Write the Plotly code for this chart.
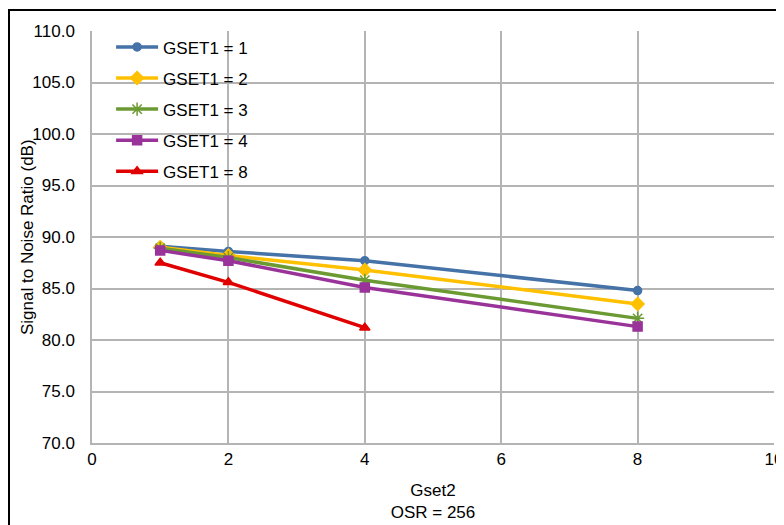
import plotly.graph_objects as go

gset2 = [1, 2, 4, 8]
gset2_g8 = [1, 2, 4]
snr_g1 = [89.1, 88.6, 87.7, 84.8]
snr_g2 = [89.0, 88.2, 86.8, 83.5]
snr_g3 = [88.9, 88.0, 85.8, 82.1]
snr_g4 = [88.7, 87.7, 85.1, 81.3]
snr_g8 = [87.5, 85.6, 81.2]

series = [
    ("GSET1 = 1", gset2, snr_g1, "#4572A7", "circle", 8),
    ("GSET1 = 2", gset2, snr_g2, "#FFC000", "diamond", 10),
    ("GSET1 = 3", gset2, snr_g3, "#6B9A32", "asterisk-open", 11),
    ("GSET1 = 4", gset2, snr_g4, "#993399", "square", 9),
    ("GSET1 = 8", gset2_g8, snr_g8, "#E00000", "triangle-up", 9),
]

fig = go.Figure()
for i, (name, xs, ys, col, sym, sz) in enumerate(series):
    fig.add_trace(go.Scatter(
        x=xs, y=ys, name=name, mode="lines+markers",
        line=dict(color=col, width=3.5),
        marker=dict(color=col, symbol=sym, size=sz,
                    line=dict(color=col, width=1.5)),
        legendgroup="g%d" % i,
    ))

# outer chart frame (partly outside the visible window, as in the reference)
fig.add_shape(type="rect", xref="paper", yref="paper",
              x0=-0.1217, x1=1.5, y0=-0.6, y1=1.051,
              line=dict(color="black", width=2), fillcolor="rgba(0,0,0,0)",
              layer="below")

fig.add_annotation(text="Signal to Noise Ratio (dB)", textangle=-90,
                   xref="paper", yref="paper", x=(27 - 92) / 682, y=0.5,
                   xanchor="center", yanchor="middle", showarrow=False,
                   font=dict(size=17))

fig.update_layout(
    width=784, height=525,
    margin=dict(l=84, r=18, t=23, b=90, autoexpand=False),
    paper_bgcolor="white", plot_bgcolor="white",
    font=dict(family="Liberation Sans, Arial, sans-serif", size=17, color="black"),
    showlegend=True,
    legend=dict(x=0.028, y=1.004, xanchor="left", yanchor="top",
                bgcolor="rgba(0,0,0,0)", font=dict(size=17),
                tracegroupgap=6, itemwidth=42),
    xaxis=dict(range=[0, 10], dtick=2, tick0=0, showgrid=True,
               gridcolor="#B4B4B4", gridwidth=1.5, zeroline=False,
               showline=True, linecolor="#B4B4B4", linewidth=1.5,
               ticks="", automargin=False,
               title=dict(text="Gset2<br>OSR = 256", font=dict(size=17), standoff=16)),
    yaxis=dict(range=[70, 110], dtick=5, tick0=70, tickformat=".1f",
               showgrid=True, gridcolor="#B4B4B4", gridwidth=1.5,
               zeroline=False, showline=True, linecolor="#B4B4B4", linewidth=1.5,
               ticks="", ticklabelstandoff=12, automargin=False),
)

fig.write_html("out.html")
